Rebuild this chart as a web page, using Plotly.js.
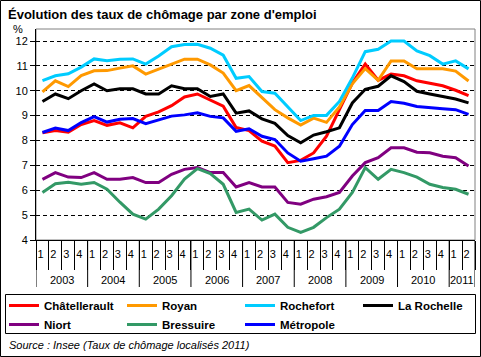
<!DOCTYPE html>
<html><head><meta charset="utf-8">
<script src="https://cdn.plot.ly/plotly-3.0.1.min.js"></script>
<style>html,body{margin:0;padding:0;background:#fff}#chart{width:481px;height:357px}</style>
</head><body><div id="chart"></div>
<script>
// ---- categories (2003 T1 .. 2011 T2) ----
const years = ['2003','2003','2003','2003','2004','2004','2004','2004','2005','2005','2005','2005',
  '2006','2006','2006','2006','2007','2007','2007','2007','2008','2008','2008','2008',
  '2009','2009','2009','2009','2010','2010','2010','2010','2011','2011'];
const quarters = ['1','2','3','4','1','2','3','4','1','2','3','4','1','2','3','4','1','2','3','4',
  '1','2','3','4','1','2','3','4','1','2','3','4','1','2'];

// ---- series values (unemployment rate, %) ----
const chatellerault = [8.31,8.40,8.33,8.64,8.80,8.61,8.71,8.51,8.97,9.15,9.40,9.75,9.87,9.63,9.38,8.52,8.40,7.97,7.78,7.11,7.20,7.50,8.17,9.24,10.31,11.07,10.42,10.67,10.60,10.40,10.30,10.20,10.02,9.80];
const royan = [9.95,10.40,10.17,10.61,10.80,10.81,10.91,11.00,10.67,10.88,11.07,11.27,11.27,11.04,10.71,10.00,10.21,9.71,9.24,8.91,8.62,8.90,8.73,9.35,10.28,10.89,10.42,11.20,11.20,10.88,10.88,10.88,10.79,10.39];
const rochefort = [10.41,10.60,10.68,10.95,11.28,11.21,11.27,11.28,11.07,11.40,11.77,11.86,11.87,11.71,11.43,10.50,10.57,9.97,9.90,9.37,8.80,9.01,9.01,9.57,10.51,11.57,11.67,12.00,12.00,11.60,11.41,11.07,11.20,10.88];
const laRochelle = [9.57,9.87,9.68,10.00,10.27,10.00,10.08,10.08,9.87,9.87,10.20,10.08,10.08,9.77,9.87,9.10,9.19,8.87,8.69,8.20,7.91,8.22,8.35,8.51,9.51,10.06,10.18,10.60,10.37,9.98,9.87,9.77,9.67,9.51];
const niort = [6.44,6.71,6.53,6.51,6.71,6.44,6.44,6.51,6.31,6.31,6.64,6.84,6.91,6.71,6.71,6.13,6.31,6.13,6.13,5.51,5.44,5.64,5.74,5.91,6.57,7.11,7.31,7.71,7.71,7.53,7.51,7.37,7.31,6.97];
const bressuire = [5.91,6.26,6.32,6.24,6.31,6.04,5.52,5.04,4.84,5.24,5.78,6.45,6.87,6.67,6.24,5.11,5.24,4.80,5.04,4.51,4.31,4.51,4.90,5.24,5.91,6.91,6.44,6.84,6.71,6.53,6.24,6.11,6.04,5.84];
const metropole = [8.32,8.50,8.40,8.72,8.96,8.74,8.85,8.88,8.68,8.84,8.98,9.03,9.11,8.97,8.91,8.37,8.47,8.17,8.04,7.50,7.17,7.27,7.37,7.77,8.64,9.21,9.21,9.57,9.50,9.37,9.31,9.28,9.24,9.05];

const seriesNames = ['Châtellerault','Royan','Rochefort','La Rochelle','Niort','Bressuire','Métropole'];
const seriesValues = [chatellerault, royan, rochefort, laRochelle, niort, bressuire, metropole];
const seriesColors = ['#FF0000','#FF9900','#00CCFF','#000000','#800080','#339966','#0000FF'];
const seriesLegend = ['legend','legend2','legend3','legend4','legend','legend2','legend3'];
const yTickVals = [4,5,6,7,8,9,10,11,12];

// ---- layout geometry ----
const W = 481, H = 357;
const M = {l: 36, r: 6, t: 29, b: 117, autoexpand: false};
const pw = W - M.l - M.r, ph = H - M.t - M.b;
const px2x = px => (px - M.l) / pw;
const py2y = py => (H - M.b - py) / ph;
const FONT = 'Arial, "Liberation Sans", sans-serif';

// unique category per quarter
const periods = years.map((y, i) => y + ' T' + quarters[i]);

const traces = seriesNames.map((name, k) => ({
  type: 'scatter', mode: 'lines', name: name,
  x: periods, y: seriesValues[k],
  line: {color: seriesColors[k], width: 3},
  legend: seriesLegend[k],
  hoverinfo: 'skip'
}));

// year groups -> labels (annotations) and dividers (shapes), in category-index units
const yearGroups = [];
years.forEach((y, i) => {
  const g = yearGroups[yearGroups.length - 1];
  if (g && g.year === y) g.last = i; else yearGroups.push({year: y, first: i, last: i});
});
const yearLabels = yearGroups.map(g => ({
  text: g.year, xref: 'x', yref: 'paper', x: (g.first + g.last) / 2, y: py2y(280),
  xanchor: 'center', yanchor: 'middle', showarrow: false,
  font: {family: FONT, size: 11, color: '#000'}
}));
const dividerPos = yearGroups.map(g => g.first - 0.5).concat([years.length - 0.5]);
const yearDividers = dividerPos.map(v => ({
  type: 'line', xref: 'x', yref: 'paper', x0: v, x1: v, y0: py2y(287), y1: 0,
  line: {color: '#000', width: 1}
}));

function legendAt(pxLeft) {
  return {
    orientation: 'v',
    x: px2x(pxLeft), xanchor: 'left',
    y: py2y(291), yanchor: 'top',
    font: {family: FONT, size: 11.5, weight: 'bold', color: '#000'},
    bgcolor: 'rgba(0,0,0,0)', borderwidth: 0,
    traceorder: 'normal', tracegroupgap: 0
  };
}

const layout = {
  width: W, height: H,
  margin: M,
  paper_bgcolor: '#FFFFFF', plot_bgcolor: '#FFFFFF',
  font: {family: FONT, size: 11, color: '#000'},
  showlegend: true,
  title: {
    text: 'Évolution des taux de chômage par zone d\'emploi',
    font: {family: FONT, size: 13, weight: 'bold', color: '#000'},
    x: 8 / W, xanchor: 'left', xref: 'container',
    y: 1 - 14 / H, yanchor: 'middle', yref: 'container'
  },
  xaxis: {
    type: 'category',
    range: [-0.5, periods.length - 0.5],
    tickmode: 'array', tickvals: periods, ticktext: quarters,
    tickson: 'boundaries',
    showline: true, linecolor: '#000', linewidth: 1,
    ticks: 'outside', ticklen: 29, tickcolor: '#000', tickwidth: 1,
    ticklabelstandoff: 4, ticklabelshift: -2, tickangle: 0,
    tickfont: {family: FONT, size: 11, color: '#000'},
    showgrid: false, zeroline: false, fixedrange: true
  },
  yaxis: {
    range: [4, 12 + (41 - M.t) / ((H - M.b - 41) / 8)],
    tickvals: yTickVals,
    showline: true, linecolor: '#000', linewidth: 1,
    ticks: 'outside', ticklen: 5, tickcolor: '#000',
    tickfont: {family: FONT, size: 11, color: '#000'},
    showgrid: true, gridcolor: '#000', gridwidth: 1, griddash: '4px,3px',
    zeroline: false, fixedrange: true
  },
  legend: legendAt(4),
  legend2: legendAt(122),
  legend3: legendAt(240),
  legend4: legendAt(358),
  shapes: [
    {type: 'rect', xref: 'paper', yref: 'paper', x0: 0, x1: 1, y0: 0, y1: 1,
     line: {color: '#808080', width: 1}, layer: 'below'},
    {type: 'rect', xref: 'paper', yref: 'paper',
     x0: px2x(5.5), x1: px2x(475.5), y0: py2y(333.5), y1: py2y(294.5),
     line: {color: '#000', width: 1}},
    {type: 'rect', xref: 'paper', yref: 'paper',
     x0: px2x(0.5), x1: px2x(480.5), y0: py2y(356.5), y1: py2y(0.5),
     line: {color: '#000', width: 1}}
  ].concat(yearDividers),
  annotations: [
    {text: '%', xref: 'paper', yref: 'paper', x: px2x(18), y: py2y(29),
     xanchor: 'center', yanchor: 'middle', showarrow: false,
     font: {family: FONT, size: 11, color: '#000'}},
    {text: 'Source : Insee (Taux de chômage localisés 2011)', xref: 'paper', yref: 'paper',
     x: px2x(7), y: py2y(345), xanchor: 'left', yanchor: 'middle', showarrow: false,
     font: {family: FONT, size: 11, style: 'italic', color: '#000'}}
  ].concat(yearLabels)
};

Plotly.newPlot('chart', traces, layout, {staticPlot: true, displayModeBar: false});
</script>
</body></html>
